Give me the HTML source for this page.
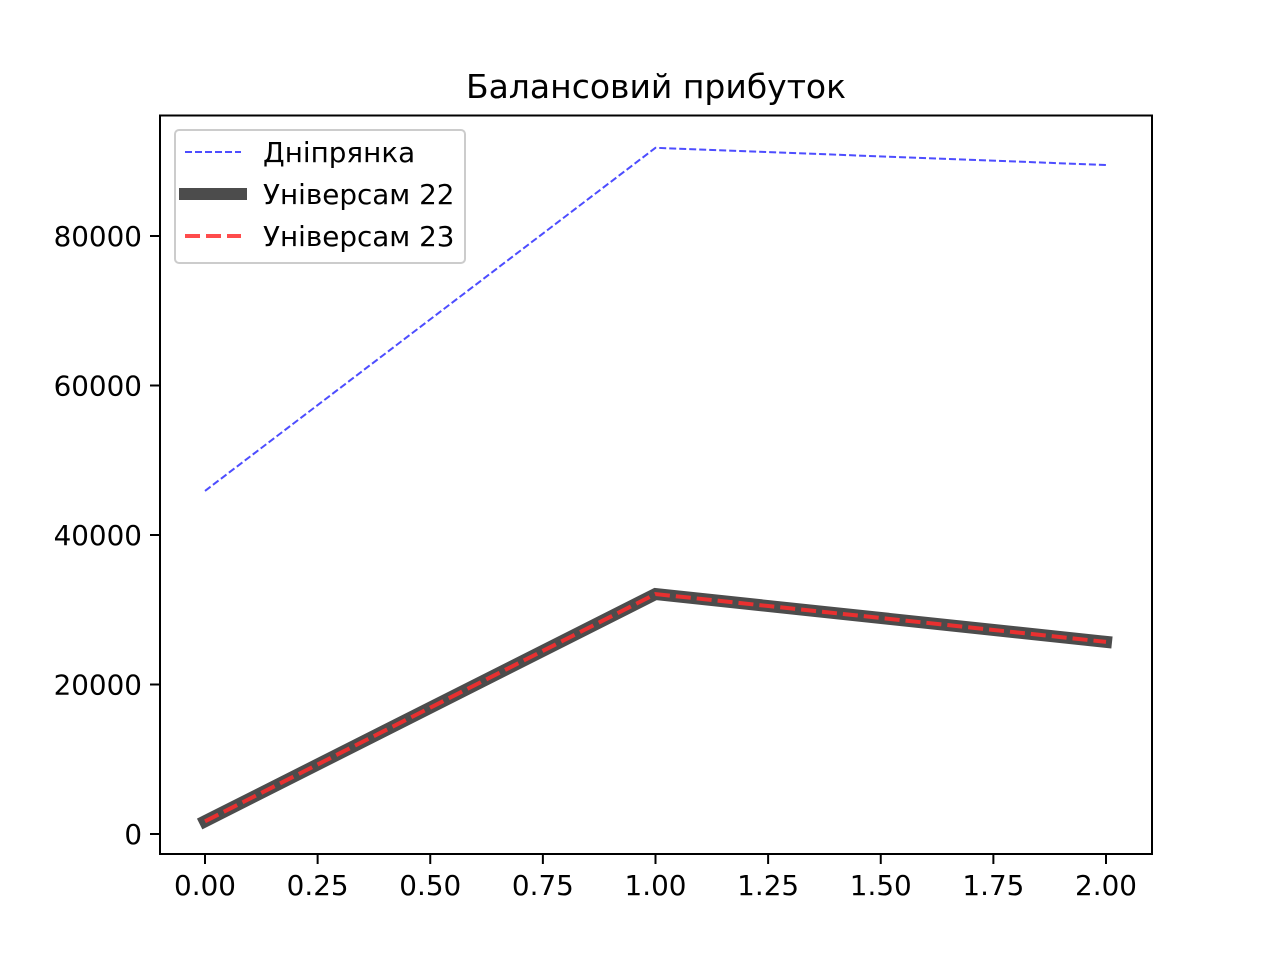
<!DOCTYPE html>
<html><head><meta charset="utf-8"><style>body{margin:0;background:#fff}svg{display:block}text{font-family:"DejaVu Sans","Liberation Sans",sans-serif;fill:#000}</style></head>
<body>
<svg id="chart" width="1280" height="960">
<rect x="0" y="0" width="1280" height="960" fill="#fff"/>
<text x="656" y="98" font-size="33" text-anchor="middle">Балансовий прибуток</text>
<g id="plot"></g>
<rect x="160" y="115.5" width="992" height="738.5" fill="none" stroke="#000" stroke-width="2"/>
<g id="xt"></g><g id="yt"></g>
<g>
<rect x="175" y="130" width="290" height="133" rx="4" fill="#fff" fill-opacity="0.8" stroke="#ccc" stroke-width="2"/>
<g><line x1="185" y1="152" x2="241" y2="152" stroke="#4d4dff" stroke-width="2" stroke-dasharray="7,3"/><text x="263" y="162" font-size="27.8">Дніпрянка</text></g>
<g><line x1="179" y1="194" x2="247" y2="194" stroke="#4c4c4c" stroke-width="12"/><text x="263" y="204" font-size="27.8">Універсам 22</text></g>
<g><line x1="185" y1="236" x2="241" y2="236" stroke="#ff4c4c" stroke-width="4" stroke-dasharray="15,6"/><text x="263" y="246" font-size="27.8">Універсам 23</text></g>
</g>
</svg>
<script>
const xValues=[0,1,2];
const dnipryanka=[45900,91800,89500];
const universam22=[1700,32100,25700];
const universam23=[1700,32100,25700];
const xTicks=[0,0.25,0.5,0.75,1,1.25,1.5,1.75,2];
const xTickLabels=["0.00","0.25","0.50","0.75","1.00","1.25","1.50","1.75","2.00"];
const yTicks=[0,20000,40000,60000,80000];
const yTickLabels=["0","20000","40000","60000","80000"];
const NS="http://www.w3.org/2000/svg";
const X=v=>205+v*450.5;
const Y=v=>834-v*0.007475;
function mk(t,a,p){const e=document.createElementNS(NS,t);for(const k in a)e.setAttribute(k,a[k]);p.appendChild(e);return e;}
const plot=document.getElementById('plot');
function series(vals,attrs,name){const pts=vals.map((v,i)=>X(xValues[i])+','+Y(v)).join(' ');
const e=mk('polyline',Object.assign({points:pts,fill:'none','stroke-linejoin':'round'},attrs),plot);

}
series(dnipryanka,{stroke:'#4d4dff','stroke-width':2,'stroke-dasharray':'7,3'},'line-dnipryanka');
series(universam22,{stroke:'#4c4c4c','stroke-width':12,'stroke-linejoin':'miter','stroke-linecap':'square'},'line-universam-22');
series(universam23,{stroke:'#e83030','stroke-width':4,'stroke-dasharray':'15,6'},'line-universam-23');
const xt=document.getElementById('xt'),yt=document.getElementById('yt');
xTicks.forEach((v,i)=>{mk('line',{x1:X(v),x2:X(v),y1:854,y2:864,stroke:'#000','stroke-width':2},xt);
const t=mk('text',{x:X(v),y:895,'font-size':27.8,'text-anchor':'middle'},xt);t.textContent=xTickLabels[i];

});
yTicks.forEach((v,i)=>{mk('line',{x1:150,x2:160,y1:Y(v),y2:Y(v),stroke:'#000','stroke-width':2},yt);
const t=mk('text',{x:142,y:Y(v)+10,'font-size':27.8,'text-anchor':'end'},yt);t.textContent=yTickLabels[i];

});
</script>
</body></html>
